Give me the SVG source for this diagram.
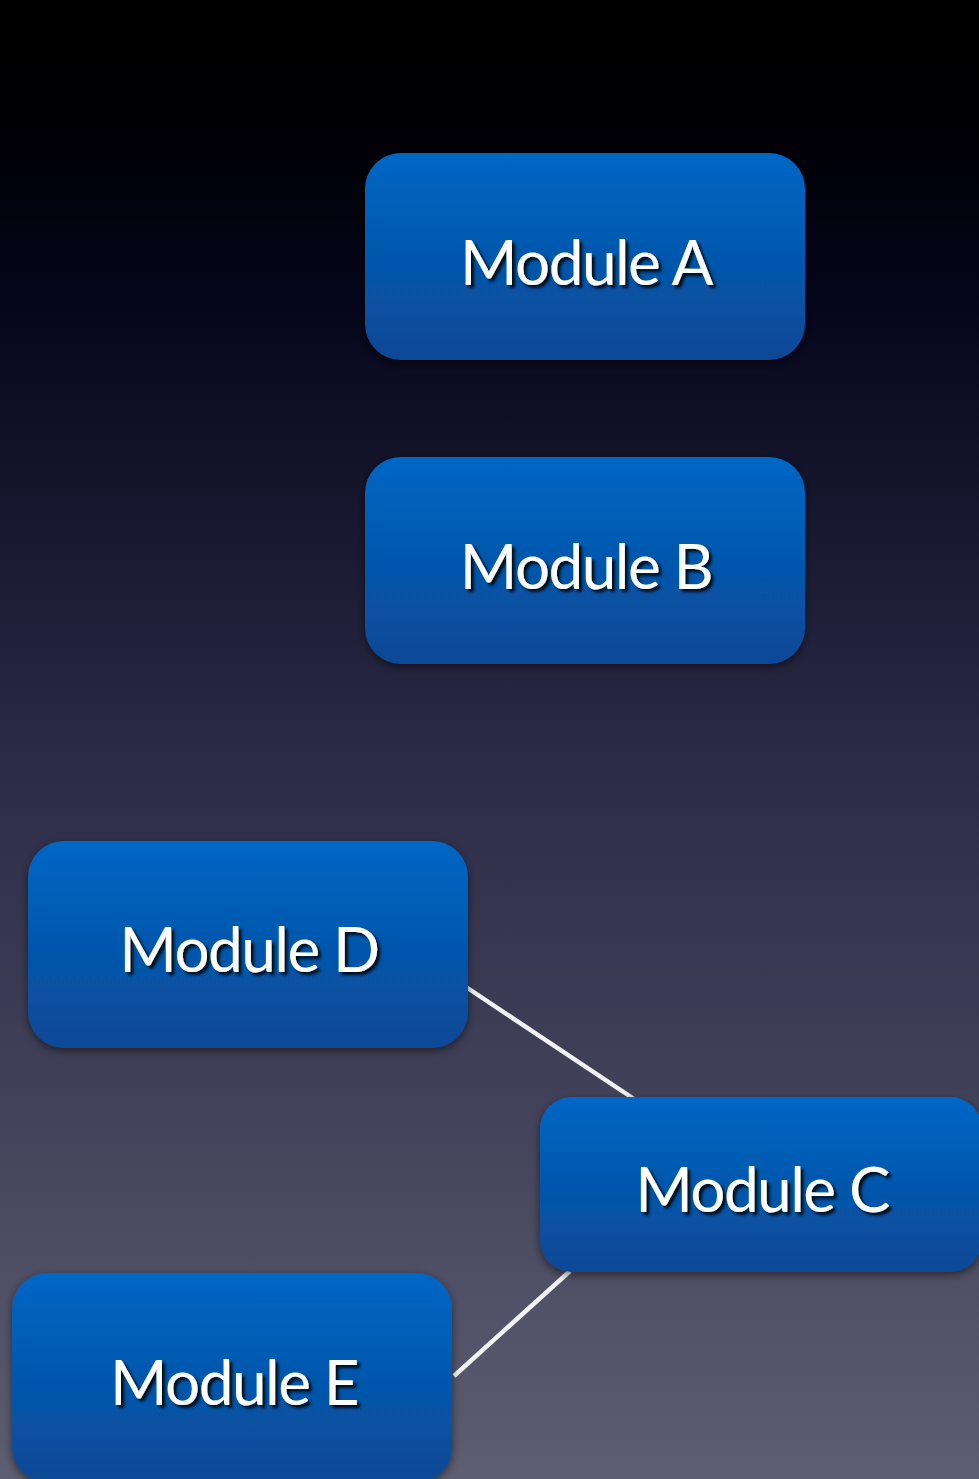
<svg xmlns="http://www.w3.org/2000/svg" width="979" height="1479" viewBox="0 0 979 1479">
<defs>
<linearGradient id="bg" x1="0" y1="0" x2="0" y2="1">
<stop offset="0" stop-color="#000000"/>
<stop offset="0.08" stop-color="#000003"/>
<stop offset="0.2" stop-color="#05051a"/>
<stop offset="0.35" stop-color="#17172f"/>
<stop offset="0.55" stop-color="#2f2f4a"/>
<stop offset="0.75" stop-color="#42425a"/>
<stop offset="1" stop-color="#5e5e72"/>
</linearGradient>
<linearGradient id="box" x1="0" y1="0" x2="0" y2="1">
<stop offset="0" stop-color="#0067c5"/>
<stop offset="1" stop-color="#0a4895"/>
</linearGradient>
<filter id="shadow" x="-10%" y="-10%" width="120%" height="130%">
<feDropShadow dx="0" dy="3" stdDeviation="4" flood-color="#000" flood-opacity="0.5"/>
</filter>
<filter id="tshadow" x="-10%" y="-20%" width="130%" height="150%">
<feDropShadow dx="3" dy="3" stdDeviation="1.5" flood-color="#000" flood-opacity="0.85"/>
</filter>
</defs>
<style>
.node rect{fill:url(#box);filter:url(#shadow);}
.node text{fill:#ffffff;font-family:"Lato","Open Sans",sans-serif;font-size:62px;letter-spacing:-1.5px;text-anchor:middle;filter:url(#tshadow);}
.conn line{stroke:#f2f2f2;stroke-width:4.5;}
</style>
<rect x="0" y="0" width="979" height="1479" fill="url(#bg)"/>
<g id="connectors" class="conn">
<line x1="466" y1="987" x2="634" y2="1099"/>
<line x1="570" y1="1271" x2="454" y2="1376"/>
</g>
<g id="module-a" class="node">
<rect x="365" y="153" width="440" height="207" rx="36"/>
<text x="586" y="285">Module A</text>
</g>
<g id="module-b" class="node">
<rect x="365" y="457" width="440" height="207" rx="36"/>
<text x="586" y="589">Module B</text>
</g>
<g id="module-d" class="node">
<rect x="28" y="841" width="440" height="207" rx="36"/>
<text x="249" y="972">Module D</text>
</g>
<g id="module-c" class="node">
<rect x="540" y="1097" width="442" height="175" rx="32"/>
<text x="762" y="1212">Module C</text>
</g>
<g id="module-e" class="node">
<rect x="12" y="1273" width="440" height="210" rx="36"/>
<text x="234" y="1405">Module E</text>
</g>
</svg>
